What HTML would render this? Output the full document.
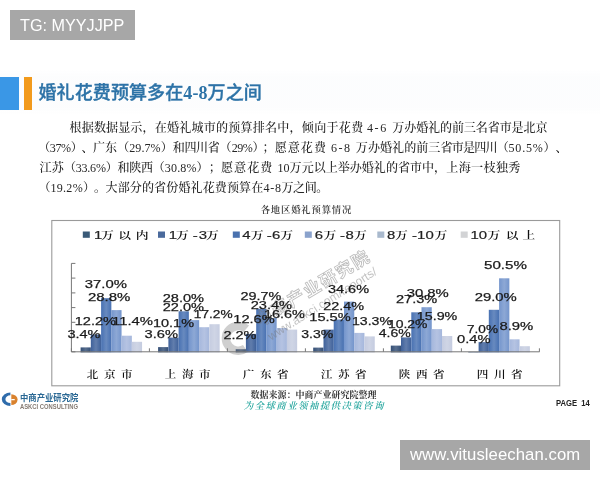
<!DOCTYPE html>
<html lang="zh"><head><meta charset="utf-8"><title>婚礼花费预算</title>
<style>
html,body{margin:0;padding:0;background:#fff;}
body{width:600px;height:480px;position:relative;overflow:hidden;font-family:"Liberation Sans","Noto Sans CJK SC",sans-serif;}
#slide{position:absolute;left:0;top:0;width:600px;height:480px;filter:blur(0.4px);}
.tag{position:absolute;background:#a7a7a7;color:#fff;font-size:16px;white-space:nowrap;}
#tg{left:10px;top:10px;width:125px;height:29.5px;line-height:30px;text-indent:10px;font-size:16.2px;}
#url{left:400px;top:440px;width:190px;height:29.5px;line-height:29.5px;text-indent:10px;font-size:16.7px;letter-spacing:0.07px;}
#band{position:absolute;left:0;top:70px;width:600px;height:44px;background:linear-gradient(to bottom,rgba(235,240,245,0) 0,rgba(244,246,249,.25) 15%,rgba(244,246,249,.25) 85%,rgba(235,240,245,0) 100%);}
#blue{position:absolute;left:0;top:77px;width:19px;height:33px;background:#3a97e6;}
#org{position:absolute;left:24.3px;top:77px;width:8px;height:33px;background:#f29a1c;}
#title{position:absolute;left:38.5px;top:78.6px;height:28px;line-height:28px;font-size:18px;font-weight:500;color:#2d73a7;-webkit-text-stroke:0.35px #2d73a7;letter-spacing:0.1px;white-space:nowrap;font-family:"Liberation Sans","Noto Sans CJK SC",sans-serif;}
.ln{position:absolute;white-space:pre;text-spacing-trim:space-all;font-kerning:none;font-family:"Liberation Serif","Noto Serif CJK SC",serif;font-size:12.06px;line-height:20px;color:#262626;font-weight:500;}
#chart{position:absolute;left:0;top:0;}
#logo{position:absolute;left:0;top:390px;}
#src{position:absolute;left:250.5px;top:388.5px;font-family:"Liberation Serif","Noto Serif CJK SC",serif;font-weight:bold;font-size:9px;line-height:12px;color:#333;white-space:nowrap;}
#slogan{position:absolute;left:243px;top:399.5px;font-family:"Liberation Serif","Noto Serif CJK SC",serif;font-weight:600;font-size:9.5px;letter-spacing:1.35px;line-height:12px;color:#2aa8a0;white-space:nowrap;transform:skewX(-14deg);transform-origin:0 100%;}
#page{transform:scaleX(0.9);transform-origin:0 0;position:absolute;left:556px;top:396.5px;font-size:8.5px;line-height:12px;font-weight:bold;color:#222;white-space:pre;}
</style></head><body>
<div id="slide">
<div id="band"></div>
<div id="blue"></div><div id="org"></div>
<div id="title">婚礼花费预算多在<span style="font-family:'Liberation Serif',serif;font-weight:bold;-webkit-text-stroke:0">4-8</span>万之间</div>
<span class="ln" style="left:69.6px;top:117.9px;letter-spacing:0.10px">根据数据显示，</span><span class="ln" style="left:154.7px;top:117.9px;letter-spacing:0.20px">在婚礼城市的预算排名中，</span><span class="ln" style="left:301.8px;top:117.9px;letter-spacing:0.31px">倾向于花费 </span><span class="ln" style="left:367.0px;top:117.9px;letter-spacing:1.55px">4-6 </span><span class="ln" style="left:392.3px;top:117.9px;letter-spacing:-0.12px">万办婚礼的前三名省市是北京</span><span class="ln" style="left:38.3px;top:137.9px;letter-spacing:-0.56px">（</span><span class="ln" style="left:49.8px;top:137.9px;letter-spacing:-0.37px">37%</span><span class="ln" style="left:70.8px;top:137.9px;letter-spacing:-1.36px">）</span><span class="ln" style="left:81.5px;top:137.9px;letter-spacing:-0.56px">、</span><span class="ln" style="left:93.0px;top:137.9px;letter-spacing:0.05px">广东（29.7%）</span><span class="ln" style="left:172.8px;top:137.9px;letter-spacing:-0.39px">和四川省</span><span class="ln" style="left:219.5px;top:137.9px;letter-spacing:0.14px">（</span><span class="ln" style="left:231.7px;top:137.9px;letter-spacing:-0.44px">29%</span><span class="ln" style="left:252.5px;top:137.9px;letter-spacing:-2.06px">）</span><span class="ln" style="left:262.5px;top:137.9px;letter-spacing:0.24px">；</span><span class="ln" style="left:274.8px;top:137.9px;letter-spacing:0.99px">愿意花费 </span><span class="ln" style="left:331.0px;top:137.9px;letter-spacing:1.43px">6-8 </span><span class="ln" style="left:355.8px;top:137.9px;letter-spacing:0.04px">万办婚礼的前三</span><span class="ln" style="left:440.5px;top:137.9px;letter-spacing:-0.82px">省市是四川</span><span class="ln" style="left:496.7px;top:137.9px;letter-spacing:-0.16px">（</span><span class="ln" style="left:508.6px;top:137.9px;letter-spacing:0.75px">50.5%</span><span class="ln" style="left:543.5px;top:137.9px;letter-spacing:-0.06px">）</span><span class="ln" style="left:555.5px;top:137.9px;letter-spacing:-0.06px">、</span><span class="ln" style="left:39.5px;top:157.9px;letter-spacing:0.19px">江苏</span><span class="ln" style="left:64.0px;top:157.9px;letter-spacing:-0.25px">（33.6%）</span><span class="ln" style="left:117.5px;top:157.9px;letter-spacing:-0.33px">和陕西</span><span class="ln" style="left:152.7px;top:157.9px;letter-spacing:0.12px">（30.8%）；</span><span class="ln" style="left:221.0px;top:157.9px;letter-spacing:1.07px">愿意花费 </span><span class="ln" style="left:277.6px;top:157.9px;letter-spacing:-0.03px">10</span><span class="ln" style="left:289.6px;top:157.9px;letter-spacing:-0.01px">万元以上举办婚礼的省市中，</span><span class="ln" style="left:446.3px;top:157.9px;letter-spacing:0.36px">上海一枝独秀</span><span class="ln" style="left:38.5px;top:177.9px;letter-spacing:-0.16px">（</span><span class="ln" style="left:50.4px;top:177.9px;letter-spacing:0.29px">19.2%</span><span class="ln" style="left:83.0px;top:177.9px;letter-spacing:-1.06px">）</span><span class="ln" style="left:94.0px;top:177.9px;letter-spacing:-0.56px">。</span><span class="ln" style="left:105.5px;top:177.9px;letter-spacing:0.10px">大部分的省份婚礼花费预算在</span><span class="ln" style="left:263.6px;top:177.9px;letter-spacing:0.64px">4-8</span><span class="ln" style="left:281.6px;top:177.9px;letter-spacing:-0.53px">万之间</span><span class="ln" style="left:316.2px;top:177.9px;letter-spacing:-0.26px">。</span>
<svg id="chart" width="600" height="480" viewBox="0 0 600 480">
<defs><linearGradient id="g0" x1="0" x2="1" y1="0" y2="0"><stop offset="0" stop-color="#344f76"/><stop offset="0.5" stop-color="#586e8e"/><stop offset="1" stop-color="#344f76"/></linearGradient><linearGradient id="g1" x1="0" x2="1" y1="0" y2="0"><stop offset="0" stop-color="#3f619a"/><stop offset="0.5" stop-color="#617dac"/><stop offset="1" stop-color="#3f619a"/></linearGradient><linearGradient id="g2" x1="0" x2="1" y1="0" y2="0"><stop offset="0" stop-color="#4871b2"/><stop offset="0.5" stop-color="#688abf"/><stop offset="1" stop-color="#4871b2"/></linearGradient><linearGradient id="g3" x1="0" x2="1" y1="0" y2="0"><stop offset="0" stop-color="#7495cc"/><stop offset="0.5" stop-color="#8da8d5"/><stop offset="1" stop-color="#7495cc"/></linearGradient><linearGradient id="g4" x1="0" x2="1" y1="0" y2="0"><stop offset="0" stop-color="#a5b7dc"/><stop offset="0.5" stop-color="#b5c3e2"/><stop offset="1" stop-color="#a5b7dc"/></linearGradient><linearGradient id="g5" x1="0" x2="1" y1="0" y2="0"><stop offset="0" stop-color="#c5cce0"/><stop offset="0.5" stop-color="#cfd5e5"/><stop offset="1" stop-color="#c5cce0"/></linearGradient></defs>
<text x="260.7" y="213" font-family="Liberation Serif, Noto Serif CJK SC, serif" font-size="9.3" font-weight="600" fill="#333" textLength="90.6" lengthAdjust="spacing">各地区婚礼预算情况</text>
<rect x="51.8" y="220.5" width="507.9" height="165.3" fill="#fff" stroke="#9a9a9a" stroke-width="1.1"/>
<g font-family="Liberation Sans, Noto Serif CJK SC, sans-serif" font-size="11.5" fill="#222">
<rect x="82.8" y="231.5" width="7" height="6.3" fill="#3a5a78"/><text x="94.1" y="239" font-family="Liberation Sans, sans-serif" stroke="#222" stroke-width="0.2" font-size="11.3" textLength="8.3" lengthAdjust="spacingAndGlyphs">1</text><text x="101.0" y="238.8" font-family="Liberation Serif, Noto Serif CJK SC, serif" font-weight="600" fill="#111" font-size="10.2" textLength="12.8" lengthAdjust="spacingAndGlyphs">万</text><text x="118.3" y="238.8" font-family="Liberation Serif, Noto Serif CJK SC, serif" font-weight="600" fill="#111" font-size="10.2" textLength="12.8" lengthAdjust="spacingAndGlyphs">以</text><text x="135.7" y="238.8" font-family="Liberation Serif, Noto Serif CJK SC, serif" font-weight="600" fill="#111" font-size="10.2" textLength="12.8" lengthAdjust="spacingAndGlyphs">内</text><rect x="158.0" y="231.5" width="7" height="6.3" fill="#4a6a9c"/><text x="168.8" y="239" font-family="Liberation Sans, sans-serif" stroke="#222" stroke-width="0.2" font-size="11.3" textLength="8.3" lengthAdjust="spacingAndGlyphs">1</text><text x="175.9" y="238.8" font-family="Liberation Serif, Noto Serif CJK SC, serif" font-weight="600" fill="#111" font-size="10.2" textLength="12.8" lengthAdjust="spacingAndGlyphs">万</text><text x="192.8" y="239" font-family="Liberation Sans, sans-serif" stroke="#222" stroke-width="0.2" font-size="11.3" textLength="5.0" lengthAdjust="spacingAndGlyphs">-</text><text x="198.7" y="239" font-family="Liberation Sans, sans-serif" stroke="#222" stroke-width="0.2" font-size="11.3" textLength="8.3" lengthAdjust="spacingAndGlyphs">3</text><text x="206.0" y="238.8" font-family="Liberation Serif, Noto Serif CJK SC, serif" font-weight="600" fill="#111" font-size="10.2" textLength="12.8" lengthAdjust="spacingAndGlyphs">万</text><rect x="232.8" y="231.5" width="7" height="6.3" fill="#4a72ae"/><text x="242.3" y="239" font-family="Liberation Sans, sans-serif" stroke="#222" stroke-width="0.2" font-size="11.3" textLength="8.3" lengthAdjust="spacingAndGlyphs">4</text><text x="250.7" y="238.8" font-family="Liberation Serif, Noto Serif CJK SC, serif" font-weight="600" fill="#111" font-size="10.2" textLength="12.8" lengthAdjust="spacingAndGlyphs">万</text><text x="266.8" y="239" font-family="Liberation Sans, sans-serif" stroke="#222" stroke-width="0.2" font-size="11.3" textLength="5.0" lengthAdjust="spacingAndGlyphs">-</text><text x="272.1" y="239" font-family="Liberation Sans, sans-serif" stroke="#222" stroke-width="0.2" font-size="11.3" textLength="8.3" lengthAdjust="spacingAndGlyphs">6</text><text x="280.3" y="238.8" font-family="Liberation Serif, Noto Serif CJK SC, serif" font-weight="600" fill="#111" font-size="10.2" textLength="12.8" lengthAdjust="spacingAndGlyphs">万</text><rect x="304.8" y="231.5" width="7" height="6.3" fill="#8aa2cc"/><text x="314.8" y="239" font-family="Liberation Sans, sans-serif" stroke="#222" stroke-width="0.2" font-size="11.3" textLength="8.3" lengthAdjust="spacingAndGlyphs">6</text><text x="323.5" y="238.8" font-family="Liberation Serif, Noto Serif CJK SC, serif" font-weight="600" fill="#111" font-size="10.2" textLength="12.8" lengthAdjust="spacingAndGlyphs">万</text><text x="340.1" y="239" font-family="Liberation Sans, sans-serif" stroke="#222" stroke-width="0.2" font-size="11.3" textLength="5.0" lengthAdjust="spacingAndGlyphs">-</text><text x="345.5" y="239" font-family="Liberation Sans, sans-serif" stroke="#222" stroke-width="0.2" font-size="11.3" textLength="8.3" lengthAdjust="spacingAndGlyphs">8</text><text x="353.9" y="238.8" font-family="Liberation Serif, Noto Serif CJK SC, serif" font-weight="600" fill="#111" font-size="10.2" textLength="12.8" lengthAdjust="spacingAndGlyphs">万</text><rect x="377.3" y="231.5" width="7" height="6.3" fill="#a9b9cd"/><text x="387.1" y="239" font-family="Liberation Sans, sans-serif" stroke="#222" stroke-width="0.2" font-size="11.3" textLength="8.3" lengthAdjust="spacingAndGlyphs">8</text><text x="395.0" y="238.8" font-family="Liberation Serif, Noto Serif CJK SC, serif" font-weight="600" fill="#111" font-size="10.2" textLength="12.8" lengthAdjust="spacingAndGlyphs">万</text><text x="412.1" y="239" font-family="Liberation Sans, sans-serif" stroke="#222" stroke-width="0.2" font-size="11.3" textLength="5.0" lengthAdjust="spacingAndGlyphs">-</text><text x="417.1" y="239" font-family="Liberation Sans, sans-serif" stroke="#222" stroke-width="0.2" font-size="11.3" textLength="16.6" lengthAdjust="spacingAndGlyphs">10</text><text x="434.5" y="238.8" font-family="Liberation Serif, Noto Serif CJK SC, serif" font-weight="600" fill="#111" font-size="10.2" textLength="12.8" lengthAdjust="spacingAndGlyphs">万</text><rect x="460.7" y="231.5" width="7" height="6.3" fill="#d2d3d5"/><text x="470.5" y="239" font-family="Liberation Sans, sans-serif" stroke="#222" stroke-width="0.2" font-size="11.3" textLength="16.6" lengthAdjust="spacingAndGlyphs">10</text><text x="487.5" y="238.8" font-family="Liberation Serif, Noto Serif CJK SC, serif" font-weight="600" fill="#111" font-size="10.2" textLength="12.8" lengthAdjust="spacingAndGlyphs">万</text><text x="505.7" y="238.8" font-family="Liberation Serif, Noto Serif CJK SC, serif" font-weight="600" fill="#111" font-size="10.2" textLength="12.8" lengthAdjust="spacingAndGlyphs">以</text><text x="522.5" y="238.8" font-family="Liberation Serif, Noto Serif CJK SC, serif" font-weight="600" fill="#111" font-size="10.2" textLength="12.8" lengthAdjust="spacingAndGlyphs">上</text>
</g>
<rect x="80.6" y="347.4" width="10.25" height="5.0" fill="url(#g0)"/><rect x="90.8" y="334.5" width="10.25" height="17.9" fill="url(#g1)"/><rect x="101.1" y="298.1" width="10.25" height="54.3" fill="url(#g2)"/><rect x="111.3" y="310.1" width="10.25" height="42.3" fill="url(#g3)"/><rect x="121.6" y="335.7" width="10.25" height="16.7" fill="url(#g4)"/><rect x="131.8" y="341.8" width="10.25" height="10.6" fill="url(#g5)"/><rect x="158.1" y="347.1" width="10.25" height="5.3" fill="url(#g0)"/><rect x="168.4" y="337.6" width="10.25" height="14.8" fill="url(#g1)"/><rect x="178.6" y="311.3" width="10.25" height="41.1" fill="url(#g2)"/><rect x="188.9" y="320.1" width="10.25" height="32.3" fill="url(#g3)"/><rect x="199.1" y="327.2" width="10.25" height="25.2" fill="url(#g4)"/><rect x="209.4" y="324.2" width="10.25" height="28.2" fill="url(#g5)"/><rect x="235.7" y="349.2" width="10.25" height="3.2" fill="url(#g0)"/><rect x="245.9" y="333.9" width="10.25" height="18.5" fill="url(#g1)"/><rect x="256.2" y="308.8" width="10.25" height="43.6" fill="url(#g2)"/><rect x="266.4" y="318.0" width="10.25" height="34.4" fill="url(#g3)"/><rect x="276.7" y="328.0" width="10.25" height="24.4" fill="url(#g4)"/><rect x="286.9" y="329.6" width="10.25" height="22.8" fill="url(#g5)"/><rect x="313.2" y="347.6" width="10.25" height="4.8" fill="url(#g0)"/><rect x="323.5" y="329.6" width="10.25" height="22.8" fill="url(#g1)"/><rect x="333.7" y="319.5" width="10.25" height="32.9" fill="url(#g2)"/><rect x="344.0" y="301.6" width="10.25" height="50.8" fill="url(#g3)"/><rect x="354.2" y="332.9" width="10.25" height="19.5" fill="url(#g4)"/><rect x="364.5" y="336.4" width="10.25" height="16.0" fill="url(#g5)"/><rect x="390.8" y="345.6" width="10.25" height="6.8" fill="url(#g0)"/><rect x="401.0" y="337.4" width="10.25" height="15.0" fill="url(#g1)"/><rect x="411.3" y="312.3" width="10.25" height="40.1" fill="url(#g2)"/><rect x="421.5" y="307.2" width="10.25" height="45.2" fill="url(#g3)"/><rect x="431.8" y="329.1" width="10.25" height="23.3" fill="url(#g4)"/><rect x="442.0" y="336.0" width="10.25" height="16.4" fill="url(#g5)"/><rect x="468.3" y="351.8" width="10.25" height="0.6" fill="url(#g0)"/><rect x="478.6" y="342.1" width="10.25" height="10.3" fill="url(#g1)"/><rect x="488.8" y="309.8" width="10.25" height="42.6" fill="url(#g2)"/><rect x="499.1" y="278.3" width="10.25" height="74.1" fill="url(#g3)"/><rect x="509.3" y="339.3" width="10.25" height="13.1" fill="url(#g4)"/><rect x="519.6" y="346.2" width="10.25" height="6.2" fill="url(#g5)"/>
<g fill="none">
<path d="M246.3 328.8A12.4 12.4 0 1 0 245.4 348.5" stroke-width="8.5" stroke="#7a7a7a" opacity="0.36"/>
<g transform="translate(259.8,327) rotate(-31)" font-family="Liberation Sans, Noto Sans CJK SC, sans-serif">
<text x="0" y="0" font-size="17" font-weight="bold" fill="none" stroke="#777" stroke-opacity="0.5" stroke-width="0.8" letter-spacing="1.7">中商产业研究院</text>
</g>
<g transform="translate(270.9,340.7) rotate(-32)" font-family="Liberation Sans, sans-serif">
<text x="0" y="0" font-size="12" fill="#777" fill-opacity="0.45">www.askci.com/reports/</text>
</g>
</g>
<path d="M71.4 263.4V351.8H539.6" fill="none" stroke="#777" stroke-width="1"/>
<path d="M71.4 351.8h4M71.4 337.1h4M71.4 322.3h4M71.4 307.6h4M71.4 292.9h4M71.4 278.1h4M71.4 263.4h4M71.4 351.8v-3.5M149.4 351.8v-3.5M227.4 351.8v-3.5M305.4 351.8v-3.5M383.4 351.8v-3.5M461.4 351.8v-3.5M539.4 351.8v-3.5" fill="none" stroke="#777" stroke-width="1"/>
<g font-family="Liberation Sans, sans-serif" font-size="11.6" fill="#1a1a1a" stroke="#1a1a1a" stroke-width="0.25">
<text x="84.8" y="288.0" textLength="42.1" lengthAdjust="spacingAndGlyphs">37.0%</text><text x="87.9" y="300.7" textLength="42.4" lengthAdjust="spacingAndGlyphs">28.8%</text><text x="74.7" y="325.0" textLength="41.3" lengthAdjust="spacingAndGlyphs">12.2%</text><text x="112.0" y="325.0" textLength="41.0" lengthAdjust="spacingAndGlyphs">11.4%</text><text x="67.5" y="338.0" textLength="33.0" lengthAdjust="spacingAndGlyphs">3.4%</text><text x="162.7" y="301.5" textLength="41.3" lengthAdjust="spacingAndGlyphs">28.0%</text><text x="162.7" y="310.5" textLength="41.3" lengthAdjust="spacingAndGlyphs">22.0%</text><text x="193.8" y="318.0" textLength="38.8" lengthAdjust="spacingAndGlyphs">17.2%</text><text x="153.0" y="326.5" textLength="41.0" lengthAdjust="spacingAndGlyphs">10.1%</text><text x="144.6" y="338.0" textLength="33.4" lengthAdjust="spacingAndGlyphs">3.6%</text><text x="240.5" y="299.9" textLength="40.8" lengthAdjust="spacingAndGlyphs">29.7%</text><text x="250.7" y="308.7" textLength="41.3" lengthAdjust="spacingAndGlyphs">23.4%</text><text x="233.3" y="323.0" textLength="41.4" lengthAdjust="spacingAndGlyphs">12.6%</text><text x="264.0" y="318.0" textLength="40.8" lengthAdjust="spacingAndGlyphs">16.6%</text><text x="223.5" y="339.0" textLength="33.0" lengthAdjust="spacingAndGlyphs">2.2%</text><text x="328.0" y="292.7" textLength="41.0" lengthAdjust="spacingAndGlyphs">34.6%</text><text x="323.2" y="309.5" textLength="40.8" lengthAdjust="spacingAndGlyphs">22.4%</text><text x="309.3" y="321.0" textLength="41.4" lengthAdjust="spacingAndGlyphs">15.5%</text><text x="352.0" y="325.0" textLength="40.0" lengthAdjust="spacingAndGlyphs">13.3%</text><text x="301.3" y="338.0" textLength="32.0" lengthAdjust="spacingAndGlyphs">3.3%</text><text x="406.7" y="297.3" textLength="42.1" lengthAdjust="spacingAndGlyphs">30.8%</text><text x="396.0" y="302.7" textLength="41.3" lengthAdjust="spacingAndGlyphs">27.3%</text><text x="416.8" y="320.0" textLength="40.5" lengthAdjust="spacingAndGlyphs">15.9%</text><text x="388.0" y="328.0" textLength="39.5" lengthAdjust="spacingAndGlyphs">10.2%</text><text x="378.7" y="336.5" textLength="32.0" lengthAdjust="spacingAndGlyphs">4.6%</text><text x="484.0" y="268.6" textLength="42.9" lengthAdjust="spacingAndGlyphs">50.5%</text><text x="474.7" y="300.6" textLength="42.1" lengthAdjust="spacingAndGlyphs">29.0%</text><text x="499.4" y="330.0" textLength="33.9" lengthAdjust="spacingAndGlyphs">8.9%</text><text x="467.0" y="332.5" textLength="31.0" lengthAdjust="spacingAndGlyphs">7.0%</text><text x="457.0" y="343.0" textLength="33.5" lengthAdjust="spacingAndGlyphs">0.4%</text>
</g>
<g font-family="Liberation Serif, Noto Serif CJK SC, serif" font-size="9.8" fill="#111" font-weight="600">
<text x="86.7" y="377.6" textLength="11.6" lengthAdjust="spacingAndGlyphs">北</text><text x="103.9" y="377.6" textLength="11.6" lengthAdjust="spacingAndGlyphs">京</text><text x="121.1" y="377.6" textLength="11.6" lengthAdjust="spacingAndGlyphs">市</text><text x="164.7" y="377.6" textLength="11.6" lengthAdjust="spacingAndGlyphs">上</text><text x="181.9" y="377.6" textLength="11.6" lengthAdjust="spacingAndGlyphs">海</text><text x="199.1" y="377.6" textLength="11.6" lengthAdjust="spacingAndGlyphs">市</text><text x="242.7" y="377.6" textLength="11.6" lengthAdjust="spacingAndGlyphs">广</text><text x="259.9" y="377.6" textLength="11.6" lengthAdjust="spacingAndGlyphs">东</text><text x="277.1" y="377.6" textLength="11.6" lengthAdjust="spacingAndGlyphs">省</text><text x="320.7" y="377.6" textLength="11.6" lengthAdjust="spacingAndGlyphs">江</text><text x="337.9" y="377.6" textLength="11.6" lengthAdjust="spacingAndGlyphs">苏</text><text x="355.1" y="377.6" textLength="11.6" lengthAdjust="spacingAndGlyphs">省</text><text x="398.7" y="377.6" textLength="11.6" lengthAdjust="spacingAndGlyphs">陕</text><text x="415.9" y="377.6" textLength="11.6" lengthAdjust="spacingAndGlyphs">西</text><text x="433.1" y="377.6" textLength="11.6" lengthAdjust="spacingAndGlyphs">省</text><text x="476.7" y="377.6" textLength="11.6" lengthAdjust="spacingAndGlyphs">四</text><text x="493.9" y="377.6" textLength="11.6" lengthAdjust="spacingAndGlyphs">川</text><text x="511.1" y="377.6" textLength="11.6" lengthAdjust="spacingAndGlyphs">省</text>
</g>
</svg>
<svg id="logo" width="100" height="24" viewBox="0 390 100 24">
<path d="M10.4 392.5A8.6 6.7 0 0 0 10.4 405.9L10.4 403.1A5 3.9 0 0 1 10.4 395.3Z" fill="#2f6cab"/>
<path d="M11.3 394.2A6.3 5.4 0 0 1 11.3 405Z" fill="#d9822e"/>
<path d="M11.3 398.9h3.4v1.3h-3.4z" fill="#fff"/>
<text x="20" y="401.3" font-family="Liberation Sans, Noto Sans CJK SC, sans-serif" font-weight="bold" font-size="8.9" fill="#2a6894" textLength="58.3" lengthAdjust="spacingAndGlyphs">中商产业研究院</text>
<text x="20" y="408.9" font-family="Liberation Sans, sans-serif" font-weight="bold" font-size="6.5" fill="#857b73" textLength="58" lengthAdjust="spacingAndGlyphs">ASKCI CONSULTING</text>
</svg>
<div id="src">数据来源：中商产业研究院整理</div>
<div id="slogan">为全球商业领袖提供决策咨询</div>
<div id="page">PAGE  14</div>
</div>
<div class="tag" id="tg">TG: MYYJJPP</div>
<div class="tag" id="url">www.vitusleechan.com</div>
</body></html>
